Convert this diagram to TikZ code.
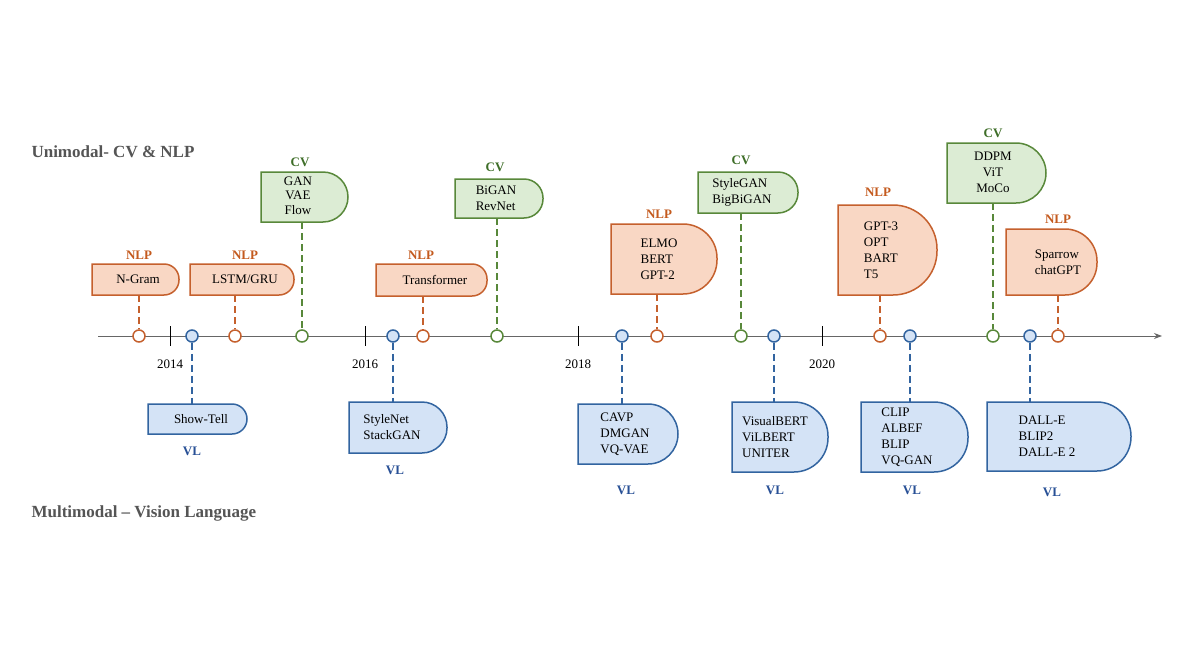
\documentclass[tikz,border=0pt]{standalone}
\usepackage{fontspec}
\setmainfont{Liberation Serif}
\usetikzlibrary{arrows.meta}
\definecolor{nlpF}{RGB}{249,215,196}\definecolor{nlpD}{RGB}{197,96,45}\definecolor{nlpT}{RGB}{196,90,30}
\definecolor{cvF}{RGB}{220,236,212}\definecolor{cvD}{RGB}{88,136,58}\definecolor{cvT}{RGB}{62,110,40}
\definecolor{vlF}{RGB}{212,227,246}\definecolor{vlD}{RGB}{50,100,160}\definecolor{vlT}{RGB}{40,80,150}
\definecolor{ttl}{RGB}{85,85,85}
\newcommand\dbox[9]{% name x1 y1 x2 y2 r kind text textx
  \path[draw=#7D,fill=#7F,line width=1.5pt] (#2,#3) {[rounded corners=#6pt] -- (#4,#3) -- (#4,#5)} -- (#2,#5) -- cycle;
  \node[btext] (#1) at (#9,{(#3+#5)/2}) {#8};
  \coordinate (#1t) at ({(#2+#4)/2},#3);
  \coordinate (#1b) at ({(#2+#4)/2},#5);}
\begin{document}
\begin{tikzpicture}[x=1pt,y=-1pt,
  btext/.style={font=\fontsize{13}{16}\selectfont,align=left,inner sep=0pt},
  lab/.style={font=\fontsize{13}{15}\selectfont\bfseries},
  conn/.style={line width=2pt,dash pattern=on 7pt off 4pt},
  dot/.style={circle,draw,line width=1.5pt,fill=white,minimum size=12pt,inner sep=0pt},
  yr/.style={font=\fontsize{13}{15}\selectfont}]
\useasboundingbox (0,0) rectangle (1187,656);
\fill[white] (0,0) rectangle (1187,656);
\node[font=\fontsize{17}{20}\selectfont\bfseries,text=ttl,anchor=west] (t1) at (28,152) {Unimodal- CV \& NLP};
\node[font=\fontsize{17}{20}\selectfont\bfseries,text=ttl,anchor=west] (t2) at (28,513) {Multimodal – Vision Language};
% axis
\coordinate (a0) at (98,336); \coordinate (a1) at (1162,336);
\draw[line width=1pt,draw=gray!80!black,-{Stealth[length=8pt]}] (a0) -- (a1);
\foreach \x/\y/\l in {170/2014/y1,365/2016/y2,578/2018/y3,822/2020/y4}{
  \draw[line width=1pt] (\x,326) -- (\x,346);
  \node[yr] (\l) at (\x,364) {\y};}
% boxes
\dbox{g1}{261}{172}{348}{222}{25}{cv}{\fontsize{13}{14.5}\selectfont\begin{tabular}{@{}c@{}}GAN\\VAE\\Flow\end{tabular}}{298}
\dbox{g2}{455}{179}{543}{218}{19}{cv}{BiGAN\\RevNet}{496}
\dbox{g3}{698}{172}{798}{213}{20}{cv}{StyleGAN\\BigBiGAN}{742}
\dbox{g4}{947}{143}{1046}{203}{30}{cv}{\begin{tabular}{@{}c@{}}DDPM\\ViT\\MoCo\end{tabular}}{993}
\dbox{o1}{92}{264}{179}{295}{15}{nlp}{N-Gram}{138}
\dbox{o2}{190}{264}{294}{295}{15}{nlp}{LSTM/GRU}{245}
\dbox{o3}{376}{264}{487}{296}{15}{nlp}{Transformer}{435}
\dbox{o4}{611}{224}{717}{294}{34}{nlp}{ELMO\\BERT\\GPT-2}{659}
\dbox{o5}{838}{205}{937}{295}{44}{nlp}{GPT-3\\OPT\\BART\\T5}{881}
\dbox{o6}{1006}{229}{1097}{295}{32}{nlp}{Sparrow\\chatGPT}{1058}
\dbox{b1}{148}{404}{247}{434}{15}{vl}{Show-Tell}{201}
\dbox{b2}{349}{402}{447}{453}{25}{vl}{StyleNet\\StackGAN}{392}
\dbox{b3}{578}{404}{678}{464}{30}{vl}{CAVP\\DMGAN\\VQ-VAE}{625}
\dbox{b4}{732}{402}{828}{472}{34}{vl}{VisualBERT\\ViLBERT\\UNITER}{775}
\dbox{b5}{861}{402}{968}{472}{34}{vl}{CLIP\\ALBEF\\BLIP\\VQ-GAN}{907}
\dbox{b6}{987}{402}{1131}{471}{34}{vl}{DALL-E\\BLIP2\\DALL-E 2}{1047}
% labels
\foreach \n/\x/\y/\c/\t in {lg1/300/162/cvT/CV,lg2/495/167/cvT/CV,lg3/741/160/cvT/CV,lg4/993/133/cvT/CV,
  lo1/139/255/nlpT/NLP,lo2/245/255/nlpT/NLP,lo3/421/255/nlpT/NLP,lo4/659/214/nlpT/NLP,lo5/878/192/nlpT/NLP,lo6/1058/219/nlpT/NLP,
  lb1/192/451/vlT/VL,lb2/395/470/vlT/VL,lb3/626/490/vlT/VL,lb4/775/490/vlT/VL,lb5/912/490/vlT/VL,lb6/1052/492/vlT/VL}
  \node[lab,text=\c] (\n) at (\x,\y) {\t};
% dots & connectors
\foreach \n/\x/\k in {g1/302/cv,g2/497/cv,g3/741/cv,g4/993/cv,o1/139/nlp,o2/235/nlp,o3/423/nlp,o4/657/nlp,o5/880/nlp,o6/1058/nlp}{
  \node[dot,draw=\k D] (d\n) at (\x,336) {};
  \draw[conn,draw=\k D] (d\n |- \n b) -- (d\n);}
\foreach \n/\x in {b1/192,b2/393,b3/622,b4/774,b5/910,b6/1030}{
  \node[dot,draw=vlD,fill=vlF] (d\n) at (\x,336) {};
  \draw[conn,draw=vlD] (d\n) -- (d\n |- \n t);}
\end{tikzpicture}
\end{document}
